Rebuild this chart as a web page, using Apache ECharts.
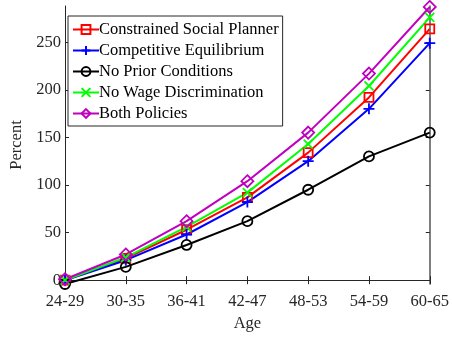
<!DOCTYPE html>
<html><head><meta charset="utf-8">
<script src="https://cdn.jsdelivr.net/npm/echarts@6/dist/echarts.min.js"></script>
<style>html,body{margin:0;padding:0;background:#fff}#c{width:452px;height:339px}</style>
</head><body><div id="c"></div>
<script>
const categories = ['24-29','30-35','36-41','42-47','48-53','54-59','60-65'];
const yTicks = [0,50,100,150,200,250];
const socialPlanner = [0, 23, 53, 87, 134, 192, 264];
const competitive = [0, 21, 48, 82, 125, 180, 249];
const noPrior = [-4, 14, 37, 62, 95, 130, 155];
const noWageDisc = [0, 24, 56, 92, 143, 204, 276];
const bothPolicies = [1, 27, 62, 104, 155, 217, 287];

const font = 'Liberation Serif';
const axisColor = '#262626';
function mk(name, data, color, symbol, size) {
  return {
    name, type: 'line', data, symbol, symbolSize: size,
    showAllSymbol: true,
    lineStyle: { color, width: 2 },
    itemStyle: { color: 'rgba(255,255,255,0)', borderColor: color, borderWidth: 1.8 },
    emphasis: { disabled: true },
    animation: false, z: 3
  };
}
const chart = echarts.init(document.getElementById('c'));
chart.setOption({
  animation: false,
  grid: { left: 57, right: 21, top: 6, bottom: 55 },
  legend: {
    orient: 'vertical', left: 68, top: 16,
    itemWidth: 26, itemHeight: 11, itemGap: 4,
    backgroundColor: '#fff', borderColor: axisColor, borderWidth: 1,
    padding: [5, 4, 4, 4],
    textStyle: { fontFamily: font, fontSize: 16.5, color: '#000', padding: [0,0,0,-5] },
    data: ['Constrained Social Planner','Competitive Equilibrium','No Prior Conditions','No Wage Discrimination','Both Policies']
  },
  xAxis: [{
    type: 'category', data: categories, boundaryGap: false,
    name: 'Age', nameLocation: 'middle', nameGap: 31,
    nameTextStyle: { fontFamily: font, fontSize: 16.5, color: '#262626' },
    axisLine: { lineStyle: { color: axisColor } },
    axisTick: { inside: true, length: 4, alignWithLabel: true, lineStyle: { color: axisColor } },
    axisLabel: { fontFamily: font, fontSize: 16.5, color: '#262626', margin: 9, interval: 0 },
    splitLine: { show: false }
  }, {
    type: 'category', data: categories, boundaryGap: false, position: 'top',
    axisLine: { lineStyle: { color: axisColor } },
    axisTick: { inside: true, length: 4, lineStyle: { color: axisColor } },
    axisLabel: { show: false }, splitLine: { show: false }
  }],
  yAxis: [{
    type: 'value', min: -4, max: 288,
    name: 'Percent', nameLocation: 'middle', nameGap: 40,
    nameTextStyle: { fontFamily: font, fontSize: 16.5, color: '#262626' },
    axisLine: { show: true, lineStyle: { color: axisColor } },
    axisTick: { show: true, inside: true, length: 4, customValues: yTicks, lineStyle: { color: axisColor } },
    axisLabel: { fontFamily: font, fontSize: 16.5, color: '#262626', margin: 4, customValues: yTicks },
    splitLine: { show: false }
  }, {
    type: 'value', min: -4, max: 288, position: 'right',
    axisLine: { show: true, lineStyle: { color: '#555', width: 1.5 } },
    axisTick: { show: true, inside: true, length: 4, customValues: yTicks, lineStyle: { color: axisColor } },
    axisLabel: { show: false, customValues: yTicks },
    splitLine: { show: false }
  }],
  series: [
    mk('Constrained Social Planner', socialPlanner, '#ff0000', 'rect', 9),
    mk('Competitive Equilibrium', competitive, '#0000ff', 'path://M5,0L5,10M0,5L10,5', 11),
    mk('No Prior Conditions', noPrior, '#000000', 'circle', 10),
    mk('No Wage Discrimination', noWageDisc, '#00ff00', 'path://M0,0L10,10M0,10L10,0', 9),
    mk('Both Policies', bothPolicies, '#bf00bf', 'diamond', 12)
  ]
});
</script></body></html>
